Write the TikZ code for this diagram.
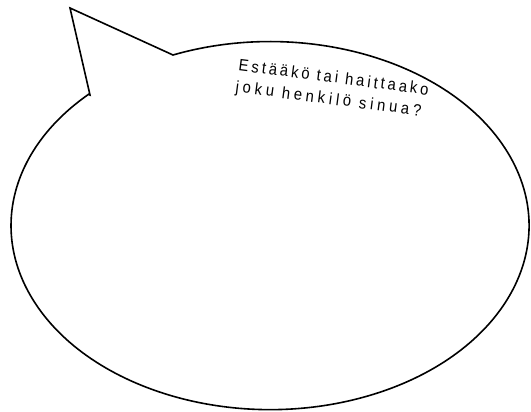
\documentclass[tikz,border=0pt]{standalone}
\usepackage{fontspec}
\setmainfont{Liberation Sans}
\newfontfamily\spacedA[LetterSpace=18,FakeStretch=0.9]{Liberation Sans}
\newfontfamily\spacedB[LetterSpace=23,FakeStretch=0.9]{Liberation Sans}
\begin{document}
\begin{tikzpicture}[x=1pt,y=1pt,
  bubble/.style={draw=black, line width=1.6pt, fill=white, line join=miter},
  bubbletext/.style={font=\fontsize{16.5}{19}\selectfont, inner sep=0pt, rotate=-7.4, anchor=base west}]
\useasboundingbox (0,0) rectangle (531,412);
\coordinate (tip) at (70,404);
\coordinate (base1) at (90,317);
\coordinate (base2) at (173,357);
\draw[bubble] (base1) -- (tip) -- (base2) arc[start angle=112, end angle=-225.5, x radius=259, y radius=184] -- cycle;
\node[bubbletext] (line1) at (238,341.5) {\spacedA Estääkö tai haittaako};
\node[bubbletext] (line2) at (235,320) {\spacedB joku henkilö sinua?};
\end{tikzpicture}
\end{document}
